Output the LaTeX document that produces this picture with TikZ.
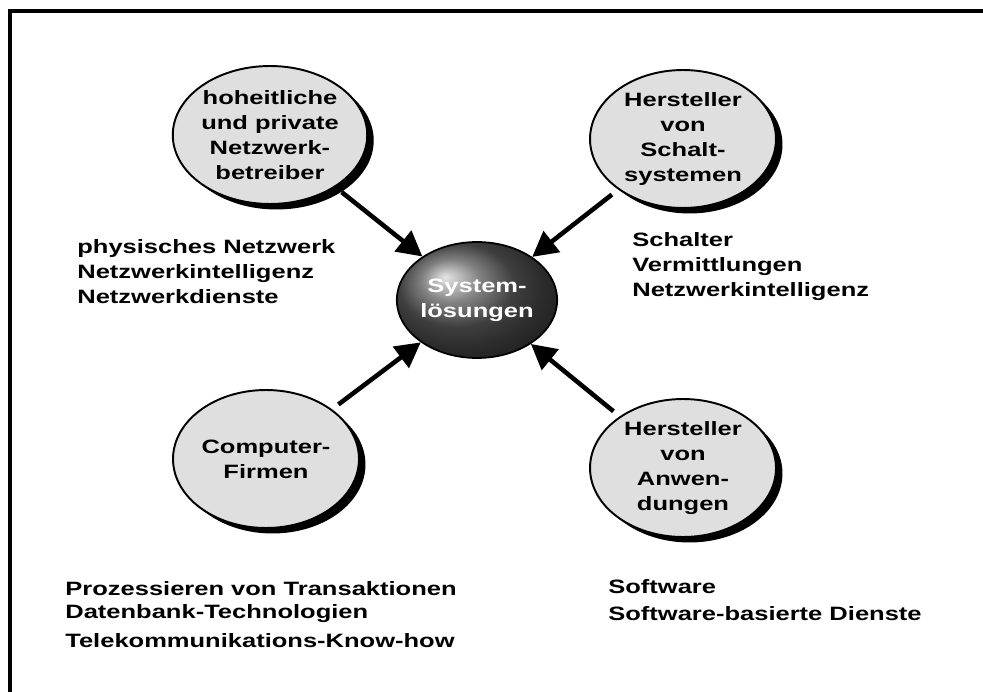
\documentclass[tikz,border=0pt]{standalone}
\usepackage{fontspec}
\setmainfont{Liberation Sans}[FakeStretch=1.32]
\usetikzlibrary{shapes.geometric,shadows,arrows.meta}
\newcommand{\boldtext}{\fontsize{11}{14.2}\selectfont\bfseries}

\begin{document}
\begin{tikzpicture}[x=0.02cm,y=-0.02cm]

%
% Styles
%
\tikzstyle{firm} = [ellipse,draw=black,line width=1.1pt,fill=gray!25,
  minimum width=3.72cm,minimum height=2.76cm,inner sep=0pt,align=center,font=\boldtext,
  drop shadow={shadow xshift=0.13cm,shadow yshift=-0.11cm,fill=black,opacity=1}]
\tikzstyle{core} = [ellipse,draw=black,line width=1pt,ball color=gray!70!black,text=white,
  minimum width=3.16cm,minimum height=2.32cm,inner sep=0pt,align=center,font=\boldtext]
\tikzstyle{notes} = [anchor=north west,align=left,inner sep=0pt,font=\boldtext]
\tikzstyle{feed} = [line width=2.6pt,-{Triangle[length=0.5cm,width=0.52cm]},shorten <=0.16cm]

\useasboundingbox (0,0) rectangle (983,692);
\draw[line width=2.2pt] (10,692) |- (983,11);

\node[firm] (netz) at (270,135) {hoheitliche\\und private\\Netzwerk-\\betreiber};
\node[firm] (schalt) at (683,139) {Hersteller\\von\\Schalt-\\systemen};
\node[firm] (comp) at (266,459) {Computer-\\Firmen};
\node[firm] (anw) at (683,468) {Hersteller\\von\\Anwen-\\dungen};
\node[core] (sys) at (477,300) {System-\\lösungen};

\draw[feed] (netz) -- (sys);
\draw[feed] (schalt) -- (sys);
\draw[feed] (comp) -- (sys);
\draw[feed] (anw) -- (sys);

\node[notes] (netzinfo) at (77,239) {physisches Netzwerk\\Netzwerkintelligenz\\Netzwerkdienste};
\node[notes] (schaltinfo) at (632,232) {Schalter\\Vermittlungen\\Netzwerkintelligenz};
\node[notes,font=\fontsize{11}{13.1}\selectfont\bfseries] (compinfo) at (65,581)
  {Prozessieren von Transaktionen\\Datenbank-Technologien\\[0.12cm]Telekommunikations-Know-how};
\node[notes,font=\fontsize{11}{15.2}\selectfont\bfseries] (anwinfo) at (608,579) {Software\\Software-basierte Dienste};

\end{tikzpicture}
\end{document}
